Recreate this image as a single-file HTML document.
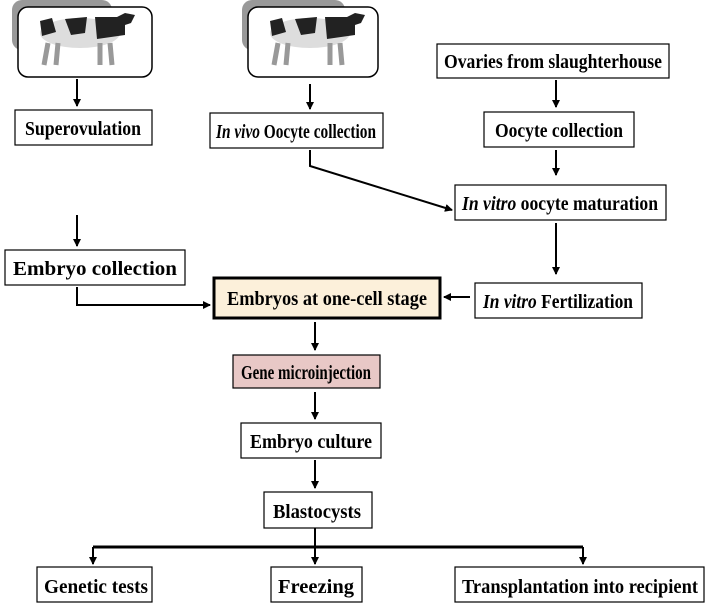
<!DOCTYPE html>
<html><head><meta charset="utf-8"><style>
html,body{margin:0;padding:0;background:#fff;}
svg text{font-family:"Liberation Serif",serif;font-weight:bold;font-size:20px;fill:#000;}
</style></head><body>
<svg width="708" height="603" viewBox="0 0 708 603" xmlns="http://www.w3.org/2000/svg">
<defs>
<marker id="a" markerWidth="8" markerHeight="8" refX="7" refY="4" orient="auto" markerUnits="userSpaceOnUse"><path d="M0,0 L8,4 L0,8 z" fill="#000"/></marker>
<g id="cow">
<ellipse cx="0" cy="0" rx="40" ry="15" fill="#ddd"/>
<path d="M-40,-12 l12,-3 l4,14 l-14,4z M-15,-14 l22,-2 l-2,16 l-14,2z M15,-16 l22,0 l8,-4 l10,2 l-4,8 l-6,2 l0,10 l-28,4z" fill="#222"/>
<path d="M-32,10 l-4,22 M-22,10 l-2,22 M20,10 l0,22 M30,10 l2,22" stroke="#999" stroke-width="5"/>
</g>
</defs>
<rect x="12" y="0" width="100" height="50" rx="10" fill="#999"/>
<rect x="18" y="7" width="134" height="70" rx="10" fill="#fff" stroke="#000" stroke-width="1.5"/>
<use href="#cow" x="80" y="33"/>
<rect x="242" y="0" width="103" height="50" rx="10" fill="#999"/>
<rect x="248" y="7" width="130" height="70" rx="10" fill="#fff" stroke="#000" stroke-width="1.5"/>
<use href="#cow" x="310" y="33"/>

<g fill="#fff" stroke="#000" stroke-width="1.2">
<rect x="437" y="44" width="232" height="34"/>
<rect x="15" y="110" width="137" height="35"/>
<rect x="210" y="113" width="173" height="35"/>
<rect x="484" y="112" width="150" height="35"/>
<rect x="455" y="185" width="211" height="35"/>
<rect x="5" y="250" width="180" height="35"/>
<rect x="475" y="283" width="167" height="35"/>
<rect x="241" y="423" width="140" height="35"/>
<rect x="264" y="492" width="108" height="36"/>
<rect x="37" y="567" width="115" height="35"/>
<rect x="271" y="567" width="91" height="35"/>
<rect x="455" y="567" width="249" height="35"/>
</g>
<rect x="214" y="278" width="226" height="40" fill="#fcf0da" stroke="#000" stroke-width="3"/>
<rect x="233" y="355" width="147" height="33" fill="#e8c8c6" stroke="#000" stroke-width="1.2"/>

<g stroke="#000" stroke-width="2" fill="none" marker-end="url(#a)">
<path d="M77,79 V106"/>
<path d="M310,84 V109"/>
<path d="M556,80 V107"/>
<path d="M556,150 V175"/>
<path d="M310,150 V166 L452,210"/>
<path d="M556,223 V274"/>
<path d="M470,297 H444"/>
<path d="M77,215 V246"/>
<path d="M77,287 V305 H210"/>
<path d="M315,322 V350"/>
<path d="M315,392 V419"/>
<path d="M315,460 V488"/>
<path d="M93,547 V564"/>
<path d="M315,528 V564"/>
<path d="M583,547 V564"/>
</g>
<path d="M93,547 H583" stroke="#000" stroke-width="3"/>

<g text-anchor="middle">
<text x="553" y="68" textLength="218" lengthAdjust="spacingAndGlyphs">Ovaries from slaughterhouse</text>
<text x="83" y="135" textLength="116" lengthAdjust="spacingAndGlyphs">Superovulation</text>
<text x="296" y="138" textLength="160" lengthAdjust="spacingAndGlyphs"><tspan font-style="italic">In vivo</tspan> Oocyte collection</text>
<text x="559" y="137" textLength="128" lengthAdjust="spacingAndGlyphs">Oocyte collection</text>
<text x="560" y="210" textLength="196" lengthAdjust="spacingAndGlyphs"><tspan font-style="italic">In vitro</tspan> oocyte maturation</text>
<text x="95" y="275" textLength="164" lengthAdjust="spacingAndGlyphs">Embryo collection</text>
<text x="558" y="308" textLength="150" lengthAdjust="spacingAndGlyphs"><tspan font-style="italic">In vitro</tspan> Fertilization</text>
<text x="327" y="305" textLength="200" lengthAdjust="spacingAndGlyphs">Embryos at one-cell stage</text>
<text x="306" y="379" textLength="130" lengthAdjust="spacingAndGlyphs">Gene microinjection</text>
<text x="311" y="448" textLength="122" lengthAdjust="spacingAndGlyphs">Embryo culture</text>
<text x="317" y="518" textLength="88" lengthAdjust="spacingAndGlyphs">Blastocysts</text>
<text x="96" y="593" textLength="104" lengthAdjust="spacingAndGlyphs">Genetic tests</text>
<text x="316" y="593" textLength="76" lengthAdjust="spacingAndGlyphs">Freezing</text>
<text x="580" y="593" textLength="236" lengthAdjust="spacingAndGlyphs">Transplantation into recipient</text>
</g>
</svg>
</body></html>
